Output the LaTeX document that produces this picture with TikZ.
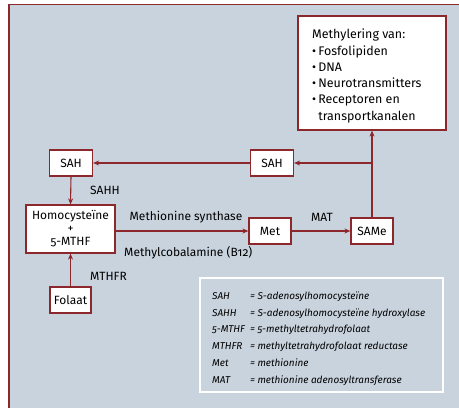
\documentclass[tikz,border=0pt]{standalone}
\usepackage{fontspec}
\setmainfont[Numbers=OldStyle]{Fira Sans}
\usetikzlibrary{arrows.meta}
\definecolor{panel}{RGB}{201,211,221}
\definecolor{wine}{RGB}{140,40,44}

\begin{document}
\begin{tikzpicture}[x=1bp,y=-1bp,
  box/.style={draw=wine,line width=1.2bp,fill=white,inner sep=0pt,font=\fontsize{12}{13}\selectfont,align=center},
  lbl/.style={inner sep=0pt,font=\fontsize{12}{13}\selectfont},
  flow/.style={wine,line width=1.1bp,-{Stealth[length=6bp,width=5bp]}}]
  \useasboundingbox (0,0) rectangle (459,408);
  \fill[panel] (8,4) rectangle (459,408);
  \draw[wine,line width=1.2bp] (8,4.5) -- (459,4.5);
  \draw[wine,line width=2.5bp] (9,4) -- (9,408);

  \node [box,minimum width=148bp,minimum height=114bp] (meth) at (372,73) {};
  \node [lbl,anchor=north west,align=left,font=\fontsize{12.5}{16.3}\selectfont] (methtxt) at (312,29)
    {Methylering van:\\
     \textbullet\,Fosfolipiden\\
     \textbullet\,DNA\\
     \textbullet\,Neurotransmitters\\
     \textbullet\,Receptoren en\\
     \phantom{\textbullet\,}transportkanalen};
  \node [box,minimum width=43bp,minimum height=26bp] (sahl) at (71,163) {SAH};
  \node [box,minimum width=43bp,minimum height=26bp] (sahr) at (272,163) {SAH};
  \node [box,minimum width=89bp,minimum height=48bp] (hcy) at (70.5,229)
    {Homocysteïne\\+\\5-MTHF};
  \node [box,minimum width=42bp,minimum height=26bp] (met) at (270,231) {Met};
  \node [box,minimum width=42bp,minimum height=26bp] (same) at (372,231) {SAMe};
  \node [box,minimum width=41bp,minimum height=26bp] (fol) at (70.5,300) {Folaat};

  \coordinate (split) at (same.north |- sahr);
  \draw [flow] (same.north) -- (meth.south);
  \draw [flow] (split) -- (sahr.east);
  \draw [flow] (sahr.west) -- (sahl.east);
  \draw [flow] (sahl.south) -- (hcy.north);
  \draw [flow] (fol.north) -- (hcy.south);
  \draw [flow] (hcy.east |- met) -- (met.west);
  \draw [flow] (met.east) -- (same.west);

  \node [lbl,anchor=west] (sahh) at (90,190) {SAHH};
  \node [lbl,anchor=west] (mthfr) at (90,276) {MTHFR};
  \node [lbl] (synth) at (186,217) {Methionine synthase};
  \node [lbl] (mat) at (322,217) {MAT};
  \node [lbl,anchor=west] (cobal) at (124,253) {Methylcobalamine (B12)};

  \draw [white,line width=1.2bp] (200,278) rectangle (443,392);
  \node [lbl,anchor=north west,font=\fontsize{10}{17}\selectfont\itshape] (legend) at (212,287)
    {\begin{tabular}{@{}l@{\hspace{5bp}}l@{}}
      SAH & = S-adenosylhomocysteïne\\
      SAHH & = S-adenosylhomocysteïne hydroxylase\\
      5-MTHF & = 5-methyltetrahydrofolaat\\
      MTHFR & = methyltetrahydrofolaat reductase\\
      Met & = methionine\\
      MAT & = methionine adenosyltransferase
    \end{tabular}};
\end{tikzpicture}
\end{document}
